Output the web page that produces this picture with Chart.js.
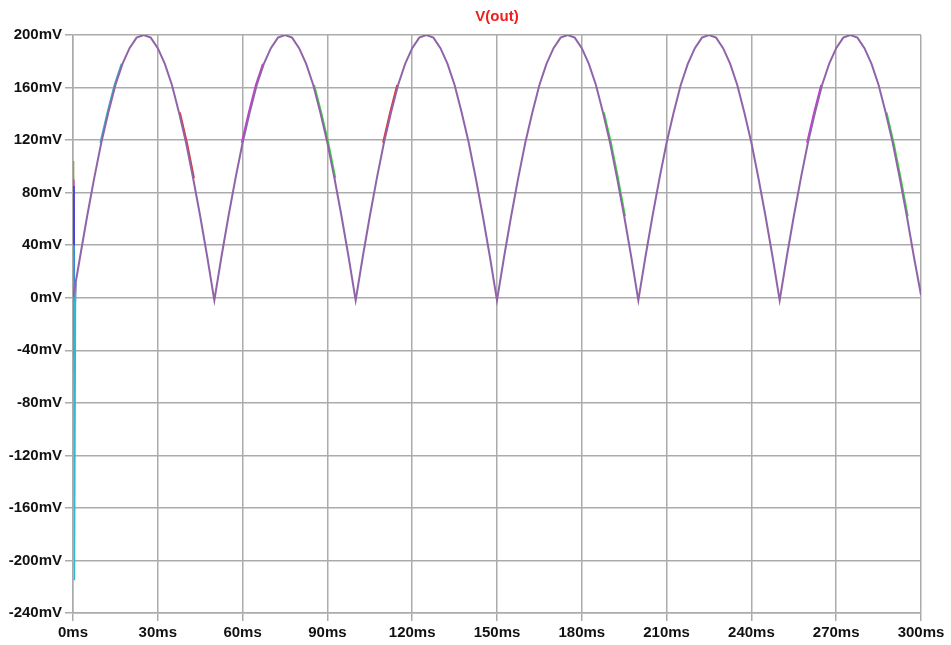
<!DOCTYPE html>
<html>
<head>
<meta charset="utf-8">
<script src="https://cdn.jsdelivr.net/npm/chart.js@4"></script>
<style>
  html, body { margin: 0; padding: 0; background: #ffffff; }
  #wrap { width: 951px; height: 645px; position: relative; }
</style>
</head>
<body>
<div id="wrap"><canvas id="c" width="951" height="645"></canvas></div>
<script>
// ---- data (time in ms, voltage in mV) ----
const chartTitle = "V(out)";
const timeMs = [0,
  2.5,5,7.5,10,12.5,15,17.5,20,22.5,25,27.5,30,32.5,35,37.5,40,42.5,45,47.5,50,
  52.5,55,57.5,60,62.5,65,67.5,70,72.5,75,77.5,80,82.5,85,87.5,90,92.5,95,97.5,100,
  102.5,105,107.5,110,112.5,115,117.5,120,122.5,125,127.5,130,132.5,135,137.5,140,142.5,145,147.5,150,
  152.5,155,157.5,160,162.5,165,167.5,170,172.5,175,177.5,180,182.5,185,187.5,190,192.5,195,197.5,200,
  202.5,205,207.5,210,212.5,215,217.5,220,222.5,225,227.5,230,232.5,235,237.5,240,242.5,245,247.5,250,
  252.5,255,257.5,260,262.5,265,267.5,270,272.5,275,277.5,280,282.5,285,287.5,290,292.5,295,297.5,300];
const vOut = [0,
  31,62,91,118,141,162,178,190,198,200,198,190,178,162,141,118,91,62,31,-2,
  31,62,91,118,141,162,178,190,198,200,198,190,178,162,141,118,91,62,31,-2,
  31,62,91,118,141,162,178,190,198,200,198,190,178,162,141,118,91,62,31,-2,
  31,62,91,118,141,162,178,190,198,200,198,190,178,162,141,118,91,62,31,-2,
  31,62,91,118,141,162,178,190,198,200,198,190,178,162,141,118,91,62,31,-2,
  31,62,91,118,141,162,178,190,198,200,198,190,178,162,141,118,91,62,31,2];

// start-up spike traces of the other runs
const spikeCyanT = [0, 0.3, 0.5, 0.9];
const spikeCyanV = [0, 40, -215, 11];
const spikeMagentaT = [0, 0.3, 0.5, 0.9];
const spikeMagentaV = [0, 90, -55, 11];
const spikeBlueT = [0, 0.35, 0.5, 0.9];
const spikeBlueV = [0, 85, -45, 11];
const spikeOliveT = [0, 0.2, 0.45, 0.9];
const spikeOliveV = [0, 104, -30, 11];

// slight deviations of other runs visible along the curve
const greenT1 = [85.3, 87.8, 90.3, 92.8];
const greenV1 = [162, 141, 118, 91];
const greenT2 = [187.8, 190.3, 192.8, 195.3];
const greenV2 = [141, 118, 91, 62];
const greenT3 = [287.8, 290.3, 292.8, 295.3];
const greenV3 = [141, 118, 91, 62];
const redT1 = [37.8, 40.3, 42.8];
const redV1 = [141, 118, 91];
const redT2 = [109.7, 112.2, 114.7];
const redV2 = [118, 141, 162];
const magentaT1 = [59.7, 62.2, 64.7, 67.2];
const magentaV1 = [118, 141, 162, 178];
const magentaT2 = [259.7, 262.2, 264.7];
const magentaV2 = [118, 141, 162];
const cyanT = [9.7, 12.2, 14.7, 17.2];
const cyanV = [118, 141, 162, 178];

const xTickStep = 30;
const yTickStep = 40;
const yMin = -240, yMax = 200;
const xMin = 0, xMax = 300;

function pts(t, v) { return t.map((x, i) => ({ x: x, y: v[i] })); }

function ds(t, v, color, width, order) {
  return {
    data: pts(t, v), borderColor: color, borderWidth: width,
    pointRadius: 0, fill: false, tension: 0, order: order
  };
}

const gridColor = '#ababab';
const tickFont = { family: '"Liberation Sans", Arial, sans-serif', size: 15, weight: 'bold' };

const titlePlugin = {
  id: 'ltTitle',
  afterDraw(chart) {
    const ctx = chart.ctx, a = chart.chartArea;
    ctx.save();
    ctx.fillStyle = '#f21c1c';
    ctx.font = 'bold 15px "Liberation Sans", Arial, sans-serif';
    ctx.textAlign = 'center';
    ctx.textBaseline = 'middle';
    ctx.fillText(chartTitle, (a.left + a.right) / 2, 17);
    ctx.restore();
  }
};

new Chart(document.getElementById('c'), {
  type: 'line',
  data: {
    datasets: [
      ds(timeMs, vOut, '#8f64a8', 2, 0),
      ds(greenT1, greenV1, '#33dd33', 2, 5),
      ds(greenT2, greenV2, '#33dd33', 2, 5),
      ds(greenT3, greenV3, '#33dd33', 2, 5),
      ds(redT1, redV1, '#e83030', 2, 5),
      ds(redT2, redV2, '#e83030', 2, 5),
      ds(magentaT1, magentaV1, '#d630e6', 2, 5),
      ds(magentaT2, magentaV2, '#d630e6', 2, 5),
      ds(cyanT, cyanV, '#35b5c8', 2, 5),
      ds(spikeOliveT, spikeOliveV, '#9aa040', 1.5, 3),
      ds(spikeBlueT, spikeBlueV, '#2f3fe0', 1.5, 2),
      ds(spikeMagentaT, spikeMagentaV, '#d33ad8', 1.5, 2),
      ds(spikeCyanT, spikeCyanV, '#2fb8d0', 1.5, 1)
    ]
  },
  options: {
    responsive: false,
    animation: false,
    events: [],
    layout: { padding: { top: 35, right: 30, left: 0, bottom: 0 } },
    plugins: { legend: { display: false }, title: { display: false }, tooltip: { enabled: false } },
    scales: {
      x: {
        type: 'linear', min: xMin, max: xMax,
        afterFit(s) { s.height = 32; },
        ticks: {
          stepSize: xTickStep, color: '#111', font: tickFont, padding: 3, maxRotation: 0,
          callback: v => v + 'ms'
        },
        grid: { color: gridColor, lineWidth: 1.5, tickLength: 8, drawTicks: true },
        border: { color: gridColor, width: 1.5 }
      },
      y: {
        type: 'linear', min: yMin, max: yMax,
        afterFit(s) { s.width = 73; },
        ticks: {
          stepSize: yTickStep, color: '#111', font: tickFont, padding: 3,
          callback: v => v + 'mV'
        },
        grid: { color: gridColor, lineWidth: 1.5, tickLength: 8, drawTicks: true },
        border: { color: gridColor, width: 1.5 }
      }
    }
  },
  plugins: [titlePlugin]
});
</script>
</body>
</html>
